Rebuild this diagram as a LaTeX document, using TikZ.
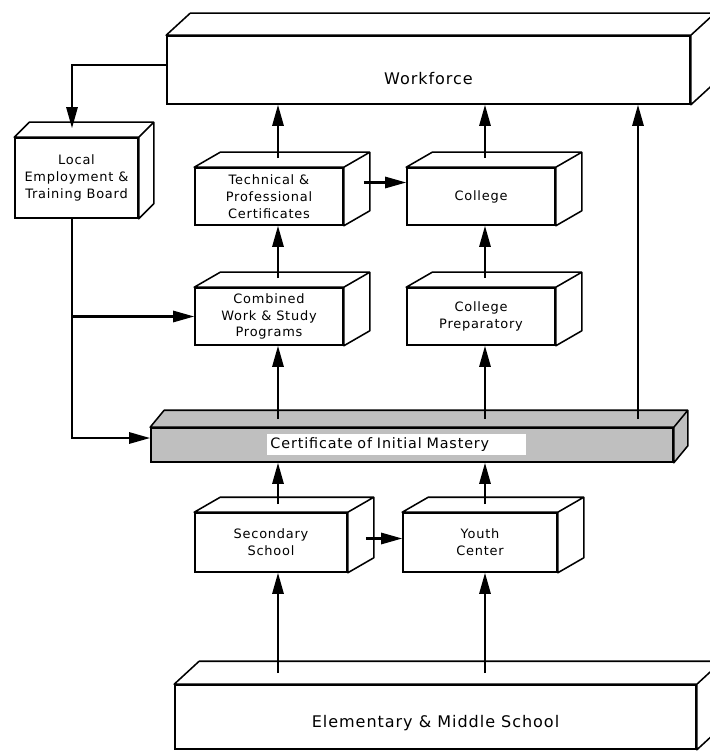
\documentclass[tikz,border=0pt]{standalone}
\usepackage{fontspec}
\setmainfont{DejaVu Sans}[LetterSpace=6]
\usetikzlibrary{calc, arrows.meta}

\begin{document}
\begin{tikzpicture}[x=0.025cm, y=-0.025cm]
		\tikzstyle{box} = [draw, line width=1.1pt, fill=white, inner sep=2, align=center, font=\fontsize{9.2}{12}\selectfont]
		\tikzstyle{wide} = [box, font=\fontsize{11.4}{13}\selectfont, text depth=0pt]
		\tikzstyle{bar} = [draw, line width=1.1pt, fill=black!25, minimum width=13.05cm, minimum height=0.85cm]
		\tikzstyle{barlabel} = [fill=white, inner xsep=0.075cm, inner ysep=0, minimum width=6.475cm, minimum height=0.525cm, text width=6.3cm, align=left, font=\fontsize{10.2}{11}\selectfont]
		\tikzstyle{face} = [draw, line width=1.1pt, line join=round]
		\tikzstyle{arr} = [-{Triangle[length=15pt, width=8pt]}, line width=1.6pt]
		\useasboundingbox (0,0) rectangle (710,752);

		\node [wide, minimum width=13.075cm, minimum height=1.7cm, text height=20pt] (work) at (428.5,70) {Workforce};
		\node [box, minimum width=3.075cm, minimum height=2cm] (local) at (76.5,178) {Local\\Employment \&\\Training Board};
		\node [box, minimum width=3.7cm, minimum height=1.425cm] (tech) at (269,196.5) {Technical \&\\Professional\\Certificates};
		\node [box, minimum width=3.7cm, minimum height=1.425cm] (coll) at (481,196.5) {College};
		\node [box, minimum width=3.7cm, minimum height=1.425cm] (comb) at (269,316.5) {Combined\\Work \& Study\\Programs};
		\node [box, minimum width=3.7cm, minimum height=1.425cm] (prep) at (481,316.5) {College\\Preparatory};
		\node [bar] (cert) at (412,445) {};
		\node [box, minimum width=3.8cm, minimum height=1.475cm] (sec) at (271,542.5) {Secondary\\School};
		\node [box, minimum width=3.85cm, minimum height=1.475cm] (youth) at (480,542.5) {Youth\\Center};
		\node [wide, minimum width=13.025cm, minimum height=1.6cm, text height=15pt] (elem) at (435.5,717) {Elementary \& Middle School};

		\foreach \n/\dx/\dy/\c in {work/24/22/white, local/15/15/white, tech/26/15/white, coll/26/15/white, comb/26/15/white, prep/26/15/white, cert/14/17/black!25, sec/26/15/white, youth/26/15/white, elem/25/23/white}
			\filldraw [face, fill=\c] (\n.north west) -- ++(\dx,-\dy) -- ($(\n.north east)+(\dx,-\dy)$) -- ($(\n.south east)+(\dx,-\dy)$) -- (\n.south east) -- (\n.north east) -- cycle (\n.north east) -- ++(\dx,-\dy);

		\node [barlabel] (certtxt) at (396.5,444.5) {Certificate of Initial Mastery};

		\coordinate (colL) at (278,0);
		\coordinate (colR) at (485,0);
		\coordinate (colX) at (638,0);
		\coordinate (colB) at (72,0);

		\draw [arr] ($(work.west)+(0,-5)$) -| ($(local.north -| colB)+(0,-9)$);
		\draw [arr] (local.south -| colB) |- (comb.west);
		\draw [arr] (local.south -| colB) |- ($(cert.west)+(0,-7)$);

		\draw [arr] ($(tech.north -| colL)+(0,-9)$) -- (work.south -| colL);
		\draw [arr] ($(coll.north -| colR)+(0,-9)$) -- (work.south -| colR);
		\draw [arr] ($(tech.east)+(20,-14)$) -- ($(coll.west)+(0,-14)$);
		\draw [arr] ($(comb.north -| colL)+(0,-9)$) -- (tech.south -| colL);
		\draw [arr] ($(prep.north -| colR)+(0,-9)$) -- (coll.south -| colR);
		\draw [arr] ($(cert.north -| colL)+(0,-8)$) -- (comb.south -| colL);
		\draw [arr] ($(cert.north -| colR)+(0,-8)$) -- (prep.south -| colR);
		\draw [arr] ($(cert.north -| colX)+(0,-8)$) -- (work.south -| colX);
		\draw [arr] ($(sec.north -| colL)+(0,-8)$) -- (cert.south -| colL);
		\draw [arr] ($(youth.north -| colR)+(0,-8)$) -- (cert.south -| colR);
		\draw [arr] ($(sec.east)+(18,-4)$) -- ($(youth.west)+(0,-4)$);
		\draw [arr] ($(elem.north -| colL)+(0,-11)$) -- (sec.south -| colL);
		\draw [arr] ($(elem.north -| colR)+(0,-11)$) -- (youth.south -| colR);
\end{tikzpicture}
\end{document}
